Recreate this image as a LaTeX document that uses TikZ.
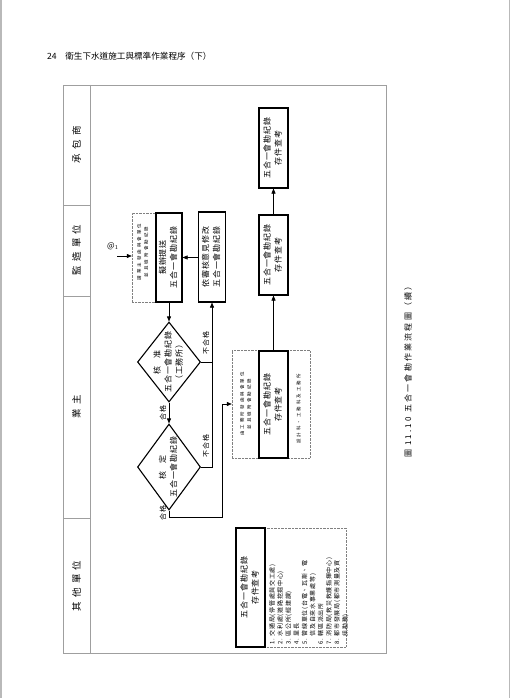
\documentclass[tikz,border=0pt]{standalone}
\usepackage{graphicx}
\usepackage{fontspec}
\setmainfont{Noto Sans CJK TC}
\newfontfamily\boxf[LetterSpace=12]{Noto Sans CJK TC}
\newfontfamily\lanef[LetterSpace=45]{Noto Sans CJK TC}
\newfontfamily\capf[LetterSpace=28]{Noto Sans CJK TC}
\newfontfamily\notef[LetterSpace=45]{Noto Sans CJK TC}
\newfontfamily\listf[LetterSpace=12]{Noto Sans CJK TC}
\usepackage{tikz}
\usetikzlibrary{shapes.geometric, arrows.meta, positioning, calc}
\newcommand{\vtext}[1]{\rotatebox{90}{\begin{tabular}{@{}c@{}}#1\end{tabular}}}
\newcommand{\vlist}[1]{\rotatebox{90}{\begin{tabular}{@{}l@{}}#1\end{tabular}}}
\tikzstyle{rec} = [draw=black, line width=1.1pt, inner sep=0pt, font=\boxf\fontsize{8}{11}\selectfont]
\tikzstyle{dia} = [diamond, draw=black, line width=1.1pt, inner sep=0pt, minimum width=63pt]
\tikzstyle{note} = [draw=gray, densely dotted, line width=0.4pt, inner sep=0pt]
\tikzstyle{small} = [inner sep=0pt, font=\notef\fontsize{4.5}{7}\selectfont]
\tikzstyle{txt} = [inner sep=0pt, font=\boxf\fontsize{8}{11}\selectfont]
\tikzstyle{tag} = [inner sep=2.5pt, rotate=90, anchor=south, font=\boxf\fontsize{7}{8}\selectfont]
\tikzstyle{lanename} = [rotate=90, font=\lanef\fontsize{9.5}{10}\selectfont]
\tikzstyle{lane} = [draw=gray!75, line width=0.6pt]
\tikzstyle{arrow} = [line width=0.6pt, -{Triangle[length=5pt,width=4pt]}]
\tikzstyle{line} = [line width=0.6pt]

\begin{document}
\begin{tikzpicture}[x=1pt,y=-1pt]
\useasboundingbox (0,0) rectangle (510,698);
\draw[gray!55, line width=1.5pt] (0.75,0) -- (0.75,698);
\draw[gray!55, line width=1.5pt] (509.25,0) -- (509.25,698);

\node[anchor=west, inner sep=0pt, font=\fontsize{8.6}{9}\selectfont] (pagehead) at (47,56) {24\quad 衛生下水道施工與標準作業程序（下）};

% swimlanes
\draw[lane] (63,85) rectangle (386,653);
\draw[lane] (90,85) -- (90,653);
\draw[lane] (63,205) -- (90,205);
\draw[lane] (63,296) -- (90,296);
\draw[lane] (63,518) -- (90,518);
\node[lanename] (lane1) at (76.5,145) {承包商};
\node[lanename] (lane2) at (76.5,250) {監造單位};
\node[lanename] (lane3) at (76.5,407) {業主};
\node[lanename] (lane4) at (76.5,586) {其他單位};

% contractor / supervisor
\node[rec, minimum width=29pt, minimum height=80pt] (a) at (273.5,148) {\vtext{五合一會勘紀錄\\存件查考}};
\node[rec, minimum width=29pt, minimum height=80pt] (b) at (273.5,255) {\vtext{五合一會勘紀錄\\存件查考}};

\node[note, minimum width=50pt, minimum height=89pt] (en) at (157,257.5) {};
\node[rec, minimum width=26pt, minimum height=89pt] (e) at (169,257.5) {\vtext{擬辦提送\\五合一會勘紀錄}};
\node[small] (enote) at (143,252) {\vtext{請業主發函與會單位\\並且檢附會勘紀錄}};
\node[rec, minimum width=27pt, minimum height=90pt] (f) at (212,257) {\vtext{依審核意見修改\\五合一會勘紀錄}};

\node[inner sep=0pt, font=\fontsize{8}{9}\selectfont] (at1) at (113,246) {@$_1$};
\coordinate (s1) at (117,256);

% owner
\node[dia, minimum height=80pt] (d1) at (169,362) {};
\node[txt] (d1t) at (d1) {\vtext{核\quad 准\\五合一會勘紀錄\\（工務所）}};
\node[dia, minimum height=86pt] (d2) at (169,467) {};
\node[txt] (d2t) at (d2) {\vtext{核\quad 定\\五合一會勘紀錄}};

\node[note, minimum width=78pt, minimum height=108pt] (cn) at (271,404) {};
\node[rec, minimum width=29pt, minimum height=107pt] (c) at (273.5,404.5) {\vtext{五合一會勘紀錄\\存件查考}};
\node[small] (cnote) at (246,404) {\vtext{由工務所發函與會單位\\並且檢附會勘紀錄}};
\node[small] (cside) at (299,409) {\vtext{設計科、工務科及工務所}};

% other units
\node[note, minimum width=110pt, minimum height=119pt] (gn) at (291,587.5) {};
\node[rec, minimum width=29pt, minimum height=119pt] (g) at (250.5,587.5) {\vtext{五合一會勘紀錄\\存件查考}};
\node[anchor=south west, inner sep=0pt, font=\listf\fontsize{6}{8.1}\selectfont] (glist) at (268.5,645) {\vlist{1. 交通局(停管處與交工處)\\2. 水利處(道路挖掘中心)\\3. 區公所(經建課)\\4. 里長\\5. 管線單位(台電、瓦斯、電\\\phantom{5. }信及自來水事業處等)\\6. 轄區派出所\\7. 消防局(救災救護指揮中心)\\8. 都市發展局(都市測量及資\\\phantom{8. }訊勘務)}};

% connectors
\draw[arrow] (s1) -- (en.west |- s1);
\draw[arrow] (f.west |- e.east) -- (e.east);
\draw[arrow] (e) -- (d1);
\draw[arrow] (d1) -- node[tag, pos=0.5] (ok1) {合格} (d2);
\draw[arrow] (d1.east) -| node[tag, pos=0.66] (ng1) {不合格} (f.south);
\draw[line] (d2.east) -| node[tag, pos=0.6] (ng2) {不合格} (f.south |- d1.east);
\coordinate (k1) at (222,517);
\draw[arrow] (d2.south) |- node[tag, pos=0.2] (ok2) {合格} (k1) |- (cn.west);
\draw[arrow] (c) -- (b);
\draw[arrow] (b) -- (a);

\node[rotate=90, inner sep=0pt, font=\capf\fontsize{8}{9}\selectfont] (caption) at (408,370) {圖 11.10 五合一會勘作業流程圖（續）};
\end{tikzpicture}
\end{document}
